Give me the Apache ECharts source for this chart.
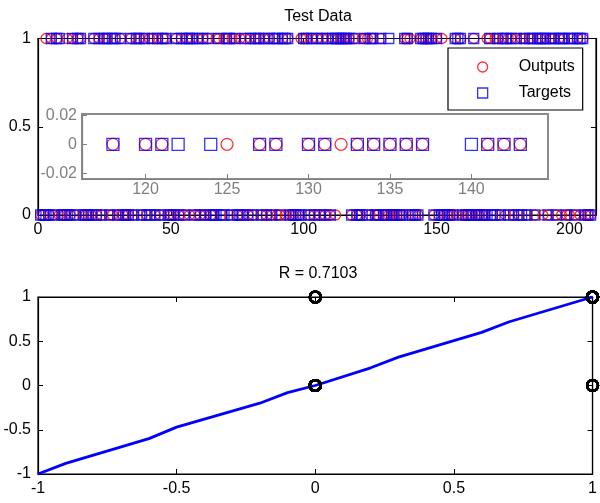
<!DOCTYPE html>
<html><head><meta charset="utf-8">
<script src="https://cdn.jsdelivr.net/npm/echarts@6/dist/echarts.min.js"></script>
<style>html,body{margin:0;padding:0;background:#fff}#c{width:600px;height:503px}</style>
</head><body><div id="c"></div>
<script>
// Test data: target and network output (0/1) per sample index 1..208
const targets = [
0,0,0,0,1,0,1,1,0,0, 0,0,1,0,1,1,0,0,0,0, 1,0,1,0,1,1,0,1,1,0, 1,0,0,0,1,0,1,1,0,1,
0,0,1,0,1,0,1,1,0,0, 0,1,0,1,0,1,1,1,0,1, 0,1,0,1,0,0,0,1,0,0, 1,1,0,1,0,0,0,1,0,1,
0,1,1,0,1,0,1,0,1,1, 0,1,1,1,0,0,0,0,0,1, 1,0,1,0,1,0,1,0,1,0, 1,1,1,1,1,1,1,0,1,0,
0,0,1,0,1,1,0,0,1,0, 0,1,0,0,0,0,0,1,1,0, 0,0,0,1,1,1,1,1,0,1, 0,0,0,0,0,0,1,1,1,0,
0,0,0,1,0,0,0,0,0,1, 0,0,1,0,1,1,0,1,0,1, 0,0,1,0,1,1,0,1,1,1, 1,0,1,1,0,1,1,1,0,1,
1,0,1,1,1,0,0,0];
const outputs = [
0,0,1,0,1,0,1,0,0,0, 1,0,1,0,1,1,0,0,0,0, 1,0,1,0,1,1,0,0,1,0, 1,0,0,0,1,0,1,1,0,1,
0,1,1,0,1,0,1,1,0,0, 0,1,0,1,0,1,0,1,0,1, 0,1,0,1,0,0,1,1,0,1, 1,0,1,1,0,1,0,1,0,1,
0,1,1,0,1,0,1,0,1,0, 0,1,0,1,0,0,0,0,1,1, 1,0,1,0,1,0,1,0,1,0, 1,0,1,1,1,1,1,0,1,0,
0,1,1,1,0,1,0,0,1,0, 0,0,0,0,0,0,0,1,1,1, 0,0,0,1,1,1,1,1,0,1, 0,1,0,0,0,0,1,0,1,0,
0,0,0,1,0,0,0,0,1,1, 0,1,1,0,1,0,1,1,0,1, 0,1,1,0,1,1,0,1,1,0, 1,0,1,1,0,1,0,1,0,0,
1,0,1,0,1,0,0,0];
const topXTicks = [0, 50, 100, 150, 200];
const topYTicks = [0, 0.5, 1];
const insetXTicks = [120, 125, 130, 135, 140];
const insetYTicks = [-0.02, 0, 0.02];
const regTicks = [-1, -0.5, 0, 0.5, 1];
// regression fit line
const fitX = [-1, -0.9, -0.6, -0.5, -0.2, -0.1, 0, 0.2, 0.3, 0.6, 0.7, 1];
const fitY = [-1, -0.88, -0.6, -0.47, -0.2, -0.08, 0, 0.2, 0.32, 0.6, 0.72, 1];
const titleTop = 'Test Data';
const titleBottom = 'R = 0.7103';

const FONT = '"Liberation Sans", Arial, Helvetica, sans-serif';
const FS = 16;
const outPts = outputs.map((v, i) => [i + 1, v]);
const tgtPts = targets.map((v, i) => [i + 1, v]);
const regPts = targets.map((t, i) => [t, outputs[i]]);
const fitPts = fitX.map((x, i) => [x, fitY[i]]);

function ax(gridIndex, opts, pos, showLabel, color, ticks, margin) {
  const c = color || '#000';
  return Object.assign({
    type: 'value', gridIndex: gridIndex, position: pos,
    axisLine: { show: true, onZero: false, lineStyle: { color: c, width: 1.2 } },
    axisTick: { show: true, inside: true, length: 5, lineStyle: { color: c, width: 1 }, customValues: ticks },
    axisLabel: { show: showLabel, color: c, fontFamily: FONT, fontSize: FS, margin: margin == null ? 7 : margin, customValues: ticks },
    splitLine: { show: false }
  }, opts);
}

const chart = echarts.init(document.getElementById('c'), null, { renderer: 'canvas' });
const option = {
  backgroundColor: '#fff',
  animation: false,
  title: [
    { text: titleTop, left: 318, top: 9, textAlign: 'center', padding: 0,
      textStyle: { fontFamily: FONT, fontSize: FS, fontWeight: 'normal', color: '#000' } },
    { text: titleBottom, left: 318, top: 266, textAlign: 'center', padding: 0,
      textStyle: { fontFamily: FONT, fontSize: FS, fontWeight: 'normal', color: '#000' } }
  ],
  legend: {
    orient: 'vertical', left: 448, top: 48,
    padding: [11, 8, 9, 29], itemGap: 10, itemWidth: 10, itemHeight: 10,
    borderColor: '#000', borderWidth: 1.2, backgroundColor: '#fff',
    data: [
      { name: 'Outputs', icon: 'circle', itemStyle: { color: 'rgba(0,0,0,0)', borderColor: '#ff0000', borderWidth: 1.3 } },
      { name: 'Targets', icon: 'rect', itemStyle: { color: 'rgba(0,0,0,0)', borderColor: '#0000ff', borderWidth: 1.3 } }
    ],
    formatter: '{a|{name}}',
    textStyle: { fontFamily: FONT, fontSize: FS, color: '#000',
      rich: { a: { fontFamily: FONT, fontSize: FS, color: '#000', padding: [0, 0, 0, 26], lineHeight: 15 } } }
  },
  grid: [
    { left: 38, top: 38.5, width: 558, height: 176.5, show: true, borderColor: '#000', borderWidth: 1.2, backgroundColor: 'transparent' },
    { left: 82, top: 114, width: 466, height: 65, show: true, borderColor: '#8c8c8c', borderWidth: 2, backgroundColor: '#fff', z: 5 },
    { left: 38, top: 297, width: 559, height: 177, show: true, borderColor: '#000', borderWidth: 1.2, backgroundColor: 'transparent' }
  ],
  xAxis: [
    ax(0, { min: 0, max: 210 }, 'bottom', true, '#000', topXTicks),
    ax(0, { min: 0, max: 210 }, 'top', false, '#000', topXTicks),
    ax(1, { min: 116.1, max: 144.7, z: 6 }, 'bottom', true, '#808080', insetXTicks, 3),
    ax(2, { min: -1, max: 1 }, 'bottom', true, '#000', regTicks),
    ax(2, { min: -1, max: 1 }, 'top', false, '#000', regTicks)
  ],
  yAxis: [
    ax(0, { min: 0, max: 1 }, 'left', true, '#000', topYTicks),
    ax(0, { min: 0, max: 1 }, 'right', false, '#000', topYTicks),
    ax(1, { min: -0.024, max: 0.021, z: 6 }, 'left', true, '#808080', insetYTicks, 5),
    ax(2, { min: -1, max: 1 }, 'left', true, '#000', regTicks),
    ax(2, { min: -1, max: 1 }, 'right', false, '#000', regTicks)
  ],
  series: [
    { name: 'Outputs', type: 'scatter', xAxisIndex: 0, yAxisIndex: 0, data: outPts, clip: false,
      symbol: 'circle', symbolSize: 10,
      itemStyle: { color: 'rgba(0,0,0,0)', borderColor: '#ff0000', borderWidth: 1.3 } },
    { name: 'Targets', type: 'scatter', xAxisIndex: 0, yAxisIndex: 0, data: tgtPts, clip: false,
      symbol: 'rect', symbolSize: 10,
      itemStyle: { color: 'rgba(0,0,0,0)', borderColor: '#0000ff', borderWidth: 1.3 } },
    { name: 'Outputs', type: 'scatter', xAxisIndex: 2, yAxisIndex: 2, data: outPts, clip: true, z: 7,
      symbol: 'circle', symbolSize: 12,
      itemStyle: { color: 'rgba(0,0,0,0)', borderColor: '#ff0000', borderWidth: 1.3 } },
    { name: 'Targets', type: 'scatter', xAxisIndex: 2, yAxisIndex: 2, data: tgtPts, clip: true, z: 7,
      symbol: 'rect', symbolSize: 12,
      itemStyle: { color: 'rgba(0,0,0,0)', borderColor: '#0000ff', borderWidth: 1.3 } },
    { name: 'Fit', type: 'line', xAxisIndex: 3, yAxisIndex: 3, data: fitPts, showSymbol: false, clip: false,
      lineStyle: { color: '#0000ff', width: 2.8 } },
    { name: 'Data', type: 'scatter', xAxisIndex: 3, yAxisIndex: 3, data: regPts, clip: false, z: 4,
      symbol: 'circle', symbolSize: 11,
      itemStyle: { color: 'rgba(0,0,0,0)', borderColor: '#000', borderWidth: 2.2 } }
  ]
};
chart.setOption(option);
</script>
</body></html>
